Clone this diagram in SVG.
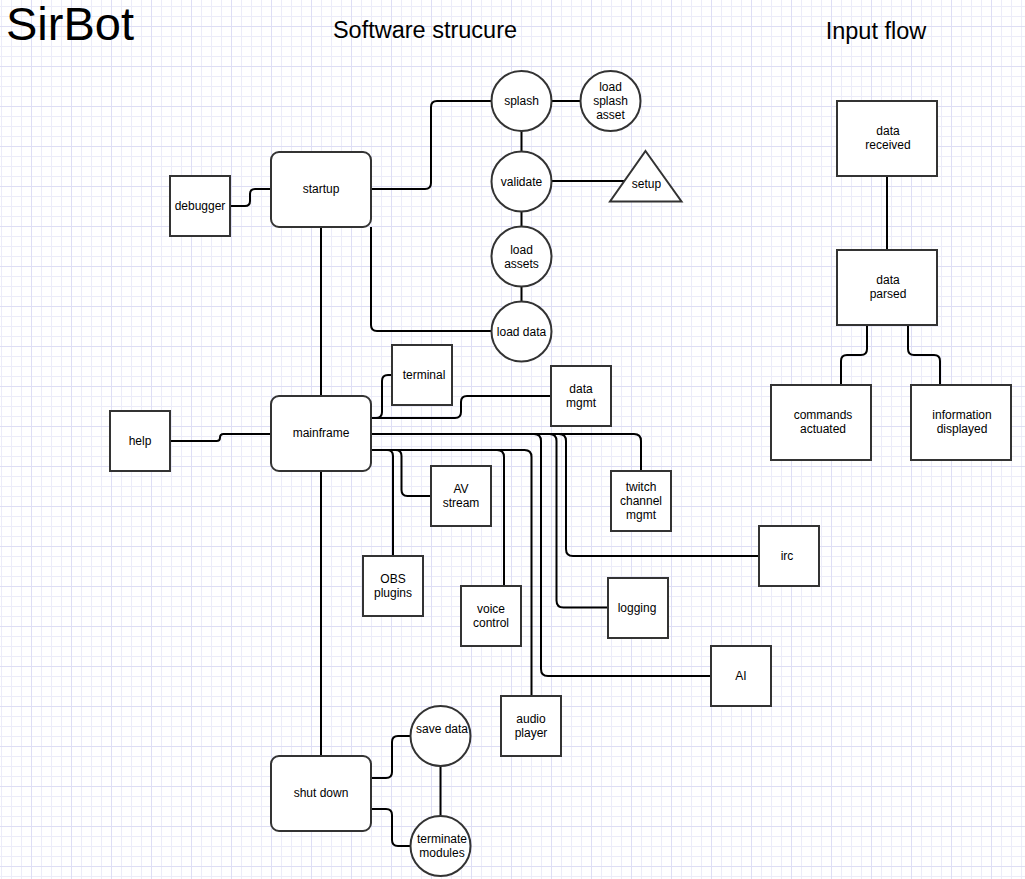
<svg xmlns="http://www.w3.org/2000/svg" width="1025" height="879" viewBox="0 0 1025 879">
<defs>
<pattern id="grid" patternUnits="userSpaceOnUse" x="1" y="6" width="40" height="40">
<path d="M0.5,0V40M10.5,0V40M20.5,0V40M0,0.5H40M0,10.5H40M0,30.5H40" stroke="#ececf9" stroke-width="1" fill="none"/>
<path d="M30.5,0V40M0,20.5H40" stroke="#dedef5" stroke-width="1" fill="none"/>
</pattern>
<style>
.n{fill:#fff;stroke:#333;stroke-width:2}
.t{font-family:"Liberation Sans",Arial,Helvetica,sans-serif;font-size:12px;fill:#000;text-anchor:middle}
.h{font-family:"Liberation Sans",Arial,Helvetica,sans-serif;fill:#000}
.c{fill:none;stroke:#000;stroke-width:2}
</style>
</defs>
<rect width="1025" height="879" fill="#fff"/>
<rect width="1025" height="879" fill="url(#grid)"/>
<text class="h" x="6" y="40" font-size="47">SirBot</text>
<text class="h" x="425" y="38" font-size="23.5" text-anchor="middle">Software strucure</text>
<text class="h" x="876" y="39" font-size="23.5" text-anchor="middle">Input flow</text>
<g id="connectors">
<path class="c" d="M230,206H245Q250,206 250,201V194Q250,189 255,189H271"/>
<path class="c" d="M170,441H216.5Q220,441 220,437.5Q220,434 223.5,434H271"/>
<path class="c" d="M371,189H425Q431,189 431,183V107Q431,101 437,101H492"/>
<path class="c" d="M371,227V325Q371,331 377,331H492"/>
<path class="c" d="M321,227V396"/>
<path class="c" d="M521.5,131V152M521.5,211.5V226.5M521.5,286.5V301.5"/>
<path class="c" d="M551.5,101H581M551.5,181H624.5"/>
<path class="c" d="M371,418H376Q382,418 382,412V381Q382,375 388,375H392"/>
<path class="c" d="M371,418H455Q461,418 461,412V402Q461,396 467,396H551"/>
<path class="c" d="M371,434H634Q641,434 641,441V471"/>
<path class="c" d="M371,434H534Q541,434 541,441V669Q541,676 548,676H711"/>
<path class="c" d="M371,434H549.5Q556.5,434 556.5,441V600.5Q556.5,607.5 563.5,607.5H608"/>
<path class="c" d="M371,434H559Q566,434 566,441V549Q566,556 573,556H759"/>
<path class="c" d="M371,450H387Q393,450 393,456V556"/>
<path class="c" d="M371,450H395.5Q401.5,450 401.5,456V490Q401.5,496 407.5,496H431"/>
<path class="c" d="M371,450H497Q504,450 504,457V586"/>
<path class="c" d="M371,450H524.5Q531.5,450 531.5,457V696"/>
<path class="c" d="M321,471V756"/>
<path class="c" d="M371,778H386Q392,778 392,772V742Q392,736 398,736H411"/>
<path class="c" d="M371,809H386Q392,809 392,815V840Q392,846 398,846H411"/>
<path class="c" d="M440.5,766V816"/>
<path class="c" d="M887,176V250"/>
<path class="c" d="M867,325V349Q867,355 861,355H847Q841,355 841,361V385"/>
<path class="c" d="M908,325V349Q908,355 914,355H934Q940,355 940,361V385"/>
</g>
<g id="startup"><rect class="n" x="271" y="152" width="100" height="75" rx="8"/><text class="t" x="321" y="193">startup</text></g>
<g id="mainframe"><rect class="n" x="271" y="396" width="100" height="75" rx="8"/><text class="t" x="321" y="437">mainframe</text></g>
<g id="shutdown"><rect class="n" x="271" y="756" width="100" height="75" rx="8"/><text class="t" x="321" y="797">shut down</text></g>
<g id="debugger"><rect class="n" x="170" y="176" width="60" height="60"/><text class="t" x="200" y="210">debugger</text></g>
<g id="help"><rect class="n" x="110" y="411" width="60" height="60"/><text class="t" x="140" y="445">help</text></g>
<g id="splash"><circle class="n" cx="521.5" cy="101" r="30"/><text class="t" x="521.5" y="105">splash</text></g>
<g id="loadsplash"><circle class="n" cx="610.5" cy="101" r="30"/><text class="t" x="610.5" y="91">load</text><text class="t" x="610.5" y="105">splash</text><text class="t" x="610.5" y="119">asset</text></g>
<g id="validate"><circle class="n" cx="521.5" cy="181.5" r="30"/><text class="t" x="521.5" y="185.5">validate</text></g>
<g id="setup"><polygon class="n" points="645.5,151 681.5,201.5 610,201.5"/><text class="t" x="646.5" y="187.5">setup</text></g>
<g id="loadassets"><circle class="n" cx="521.5" cy="256.5" r="30"/><text class="t" x="521.5" y="253.5">load</text><text class="t" x="521.5" y="267.5">assets</text></g>
<g id="loaddata"><circle class="n" cx="521.5" cy="331.5" r="30"/><text class="t" x="521.5" y="335.5">load data</text></g>
<g id="terminal"><rect class="n" x="392" y="345" width="60" height="60"/><text class="t" x="424" y="379">terminal</text></g>
<g id="datamgmt"><rect class="n" x="551" y="366" width="60" height="60"/><text class="t" x="581" y="393">data</text><text class="t" x="581" y="407">mgmt</text></g>
<g id="avstream"><rect class="n" x="431" y="466" width="60" height="60"/><text class="t" x="461" y="493">AV</text><text class="t" x="461" y="507">stream</text></g>
<g id="twitch"><rect class="n" x="611" y="471" width="60" height="60"/><text class="t" x="641" y="491">twitch</text><text class="t" x="641" y="505">channel</text><text class="t" x="641" y="519">mgmt</text></g>
<g id="obs"><rect class="n" x="363" y="556" width="60" height="60"/><text class="t" x="393" y="583">OBS</text><text class="t" x="393" y="597">plugins</text></g>
<g id="voice"><rect class="n" x="461" y="586" width="60" height="60"/><text class="t" x="491" y="613">voice</text><text class="t" x="491" y="627">control</text></g>
<g id="irc"><rect class="n" x="759" y="526" width="60" height="60"/><text class="t" x="787" y="560">irc</text></g>
<g id="logging"><rect class="n" x="608" y="578" width="60" height="60"/><text class="t" x="637" y="612">logging</text></g>
<g id="ai"><rect class="n" x="711" y="646" width="60" height="60"/><text class="t" x="741" y="680">AI</text></g>
<g id="audio"><rect class="n" x="501" y="696" width="60" height="60"/><text class="t" x="531" y="723">audio</text><text class="t" x="531" y="737">player</text></g>
<g id="savedata"><circle class="n" cx="440.5" cy="736" r="30"/><text class="t" x="442" y="733">save data</text></g>
<g id="terminate"><circle class="n" cx="440.5" cy="846" r="30"/><text class="t" x="442" y="843">terminate</text><text class="t" x="442" y="857">modules</text></g>
<g id="datareceived"><rect class="n" x="837" y="101" width="100" height="75"/><text class="t" x="888" y="135">data</text><text class="t" x="888" y="149">received</text></g>
<g id="dataparsed"><rect class="n" x="837" y="250" width="100" height="75"/><text class="t" x="888" y="284">data</text><text class="t" x="888" y="298">parsed</text></g>
<g id="commands"><rect class="n" x="771" y="385" width="100" height="75"/><text class="t" x="823" y="419">commands</text><text class="t" x="823" y="433">actuated</text></g>
<g id="information"><rect class="n" x="911" y="385" width="100" height="75"/><text class="t" x="962" y="419">information</text><text class="t" x="962" y="433">displayed</text></g>
</svg>
